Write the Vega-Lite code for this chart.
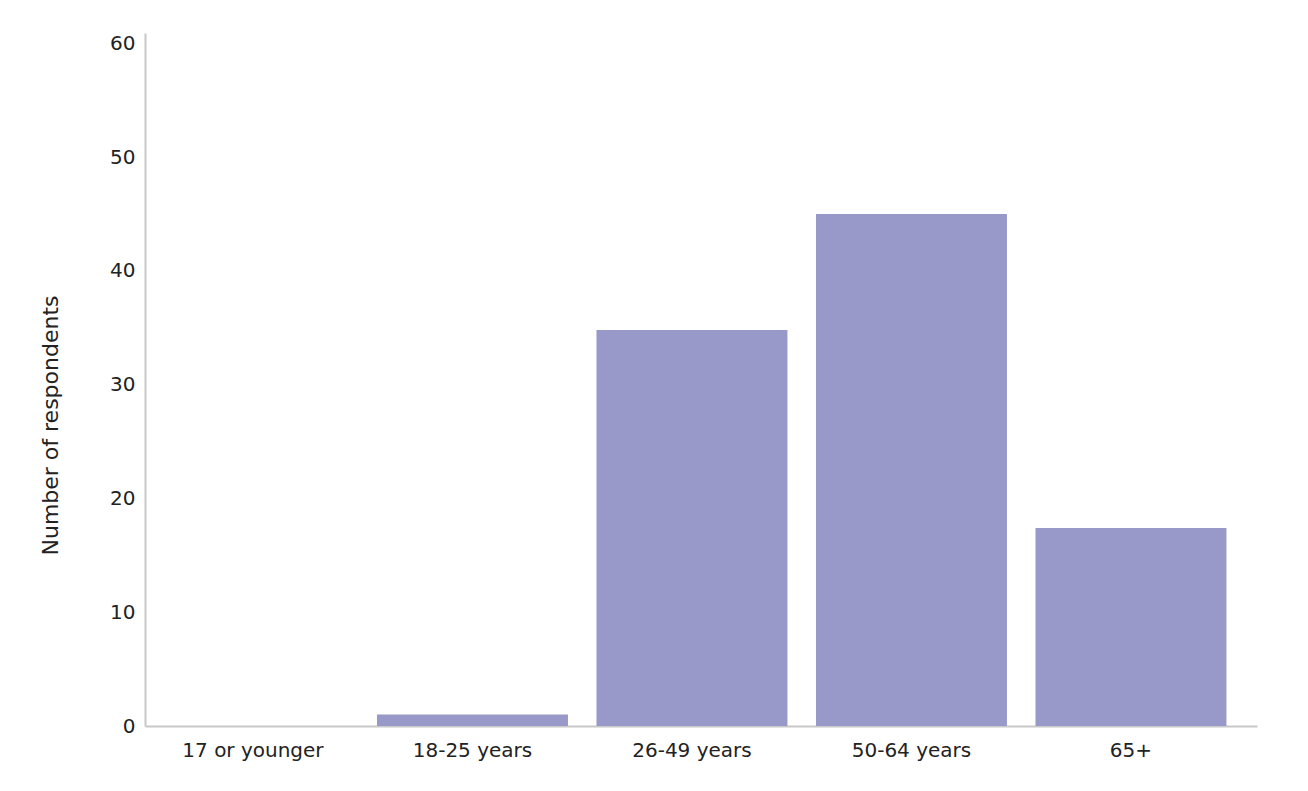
{
  "$schema": "https://vega.github.io/schema/vega-lite/v6.json",
  "autosize": {"type": "none"},
  "width": 1112,
  "height": 693,
  "padding": {"left": 145, "top": 33, "right": 51, "bottom": 65},
  "background": "white",
  "data": {
    "values": [
      {"age": "17 or younger", "count": 0},
      {"age": "18-25 years", "count": 1},
      {"age": "26-49 years", "count": 34.8},
      {"age": "50-64 years", "count": 45},
      {"age": "65+", "count": 17.4}
    ]
  },
  "mark": {"type": "bar", "color": "#9898c9"},
  "encoding": {
    "x": {
      "field": "age",
      "type": "nominal",
      "sort": null,
      "title": null,
      "scale": {"paddingInner": 0.13, "paddingOuter": 0.098, "align": 0.29},
      "axis": {"labelAngle": 0, "ticks": false, "labelPadding": 14, "domainColor": "#c8c8c8", "domainWidth": 2}
    },
    "y": {
      "field": "count",
      "type": "quantitative",
      "title": "Number of respondents",
      "scale": {"domain": [0, 60.9], "nice": false},
      "axis": {"values": [0, 10, 20, 30, 40, 50, 60], "grid": false, "ticks": false, "labelPadding": 10, "domainColor": "#c8c8c8", "domainWidth": 2, "titlePadding": 47, "titleY": 392, "titleFontSize": 22}
    }
  },
  "config": {
    "font": "DejaVu Sans",
    "view": {"stroke": null},
    "axis": {"labelFont": "DejaVu Sans", "labelFontSize": 20, "labelColor": "#222222", "titleFont": "DejaVu Sans", "titleFontSize": 22, "titleFontWeight": "normal", "titleColor": "#222222"}
  }
}
